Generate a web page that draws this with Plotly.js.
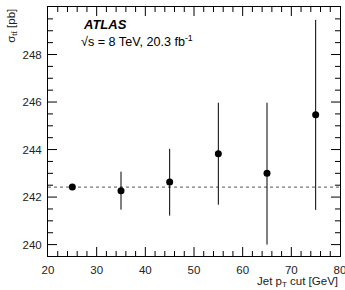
<!DOCTYPE html>
<html><head><meta charset="utf-8">
<script src="https://cdn.plot.ly/plotly-3.0.1.min.js"></script>
<style>html,body{margin:0;padding:0;background:#fff}#c{width:345px;height:290px}</style>
</head><body><div id="c"></div>
<script>
var jetPtCut = [25, 35, 45, 55, 65, 75];
var sigma = [242.42, 242.27, 242.63, 243.82, 243.0, 245.46];
var errUp = [0, 0.8, 1.4, 2.15, 2.97, 4.0];
var errDown = [0, 0.8, 1.41, 2.14, 3.0, 4.0];
var nominal = 242.42;
var xTicks = [20, 30, 40, 50, 60, 70, 80];
var yTicks = [240, 242, 244, 246, 248];

var W = 345, H = 290, M = {l: 48, r: 5, t: 7, b: 34};
var xRange = [20, 80], yRange = [239.52, 250];
var font = 'Liberation Sans, Arial, sans-serif';

var trace = {
  x: jetPtCut, y: sigma, type: 'scatter', mode: 'markers',
  marker: {color: '#000', size: 7},
  error_y: {type: 'data', symmetric: false, array: errUp, arrayminus: errDown, width: 0, thickness: 1, color: '#000'},
  hoverinfo: 'none', showlegend: false
};

// tick marks inside the frame on all four sides (lengths converted from pixels to axis units)
var pxPerX = (W - M.l - M.r) / (xRange[1] - xRange[0]);
var pxPerY = (H - M.t - M.b) / (yRange[1] - yRange[0]);
var shapes = [];
var tl = {color: '#000', width: 1};
function xTick(v, len) {
  var d = len / pxPerY;
  shapes.push({type: 'line', xref: 'x', yref: 'y', x0: v, x1: v, y0: yRange[0], y1: yRange[0] + d, line: tl, layer: 'above'});
  shapes.push({type: 'line', xref: 'x', yref: 'y', x0: v, x1: v, y0: yRange[1], y1: yRange[1] - d, line: tl, layer: 'above'});
}
function yTick(v, len) {
  var d = len / pxPerX;
  shapes.push({type: 'line', xref: 'x', yref: 'y', y0: v, y1: v, x0: xRange[0], x1: xRange[0] + d, line: tl, layer: 'above'});
  shapes.push({type: 'line', xref: 'x', yref: 'y', y0: v, y1: v, x0: xRange[1], x1: xRange[1] - d, line: tl, layer: 'above'});
}
for (var xv = 22; xv < 80; xv += 2) { if (xv % 10 !== 0) xTick(xv, 5); }
xTicks.forEach(function (v) { if (v > xRange[0] && v < xRange[1]) xTick(v, 9); });
for (var yv = 240; yv < 250; yv += 0.5) { if (yv % 2 !== 0) yTick(yv, 5); }
yTicks.forEach(function (v) { yTick(v, 9); });

shapes.push({type: 'line', xref: 'x', yref: 'y', x0: xRange[0], x1: xRange[1], y0: nominal, y1: nominal,
  line: {color: '#555', width: 1, dash: 'dot'}, layer: 'below'});

function ax(range, tickvals) {
  return {
    range: range, tickmode: 'array', tickvals: tickvals,
    showline: true, linecolor: '#000', linewidth: 1, mirror: true,
    ticks: '', showgrid: false, zeroline: false, ticklabeloverflow: 'allow',
    ticklabelstandoff: 3,
    tickfont: {family: font, size: 11.5, color: '#222'}
  };
}
var layout = {
  width: W, height: H,
  margin: M,
  paper_bgcolor: '#fff', plot_bgcolor: '#fff',
  font: {family: font},
  xaxis: ax(xRange, xTicks),
  yaxis: ax(yRange, yTicks),
  shapes: shapes,
  annotations: [
    {xref: 'paper', yref: 'paper', x: 0.113, y: 0.966, xanchor: 'left', yanchor: 'top', showarrow: false,
     text: '<b><i>ATLAS</i></b>', font: {family: font, size: 13, color: '#000'}},
    {xref: 'paper', yref: 'paper', x: 0.105, y: 0.905, xanchor: 'left', yanchor: 'top', showarrow: false,
     text: '√s = 8 TeV, 20.3 fb<sup>-1</sup>', font: {family: font, size: 12.6, color: '#000'}},
    {xref: 'paper', yref: 'paper', x: 1, y: -0.07, xanchor: 'right', yanchor: 'top', showarrow: false,
     text: 'Jet p<sub>T</sub> cut [GeV]', font: {family: font, size: 11.5, color: '#222'}},
    {xref: 'paper', yref: 'paper', x: -0.155, y: 1.0, xanchor: 'left', yanchor: 'top', showarrow: false, textangle: -90,
     text: 'σ<sub>tt̄</sub> [pb]', font: {family: font, size: 11.5, color: '#222'}}
  ]
};
Plotly.newPlot('c', [trace], layout, {displayModeBar: false});
</script></body></html>
